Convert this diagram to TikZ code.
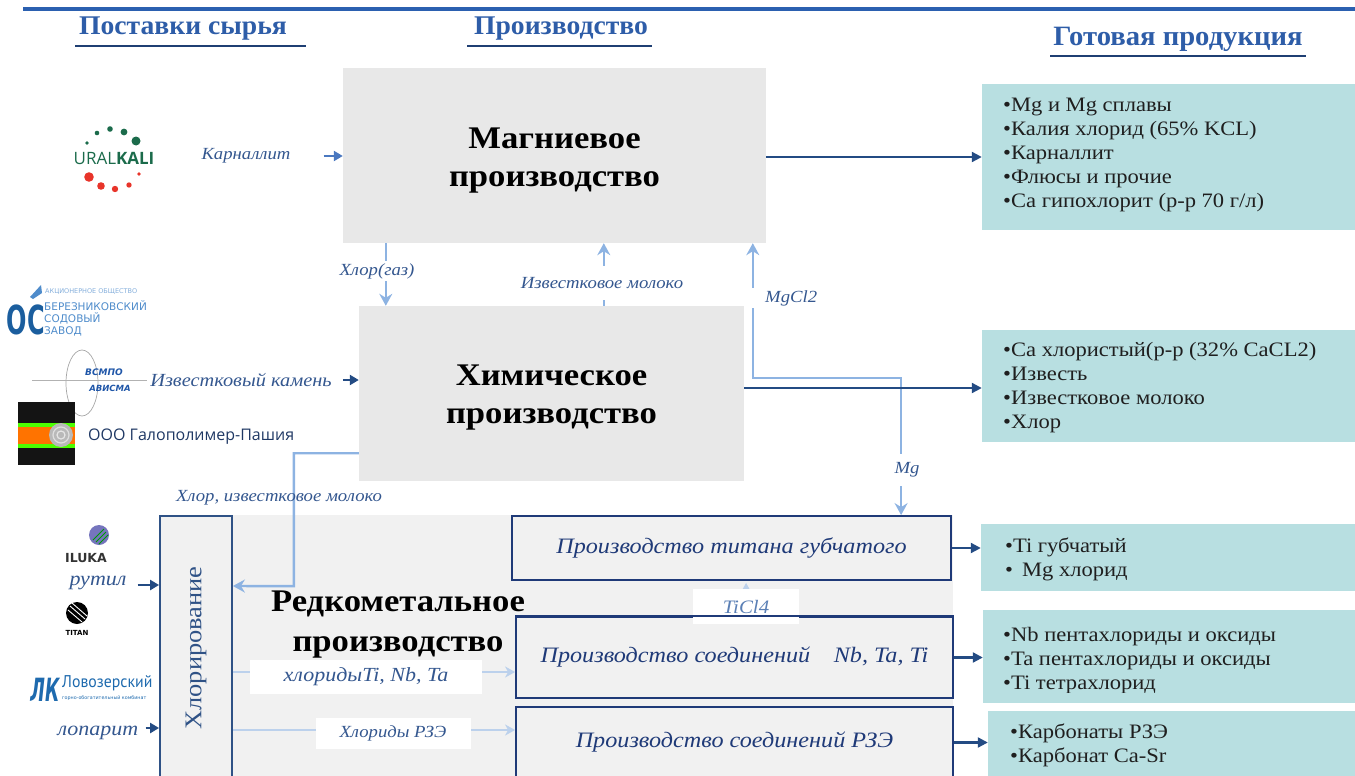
\documentclass[tikz,border=0pt]{standalone}
\usepackage{fontspec}
\setmainfont{Liberation Serif}[FakeStretch=1.1]
\setsansfont{DejaVu Sans}
\newfontfamily\logofont{Open Sans}
\newfontfamily\lovfont{PT Sans}
\usetikzlibrary{arrows.meta,calc}

\definecolor{hdrblue}{HTML}{2E5DA8}
\definecolor{hdrline}{HTML}{1F3F73}
\definecolor{topblue}{HTML}{2B60B0}
\definecolor{lblblue}{HTML}{34578F}
\definecolor{lightblue}{HTML}{8DB3E2}
\definecolor{paleblue}{HTML}{BCD1EC}
\definecolor{darkblue}{HTML}{234B83}
\definecolor{navy}{HTML}{1F3A78}
\definecolor{chlnavy}{HTML}{2F5286}
\definecolor{boxgray}{HTML}{E8E8E8}
\definecolor{regiongray}{HTML}{F1F1F1}
\definecolor{tealbox}{HTML}{B8DFE1}
\definecolor{midblue}{HTML}{4A78C0}
\definecolor{ukgreen}{HTML}{1B6B4B}
\definecolor{ukred}{HTML}{E8342A}
\definecolor{bszblue}{HTML}{1B5E9E}
\definecolor{bszlight}{HTML}{4F8CCB}
\definecolor{vsblue}{HTML}{1F56A8}
\definecolor{galtext}{HTML}{1F3864}
\definecolor{lovblue}{HTML}{1E6AAE}
\definecolor{ticlblue}{HTML}{5A7FB5}

\begin{document}
\begin{tikzpicture}[x=1pt,y=-1pt,
  hdr/.style={text=hdrblue, font=\bfseries\fontsize{27}{30}\selectfont, inner sep=0pt, xscale=0.93},
  hdrrule/.style={draw=hdrline, line width=2.4pt},
  bigbox/.style={fill=boxgray, inner sep=0pt},
  bigtext/.style={inner sep=0pt, align=center, font=\bfseries\fontsize{31.5}{38}\selectfont},
  outbox/.style={fill=tealbox, inner sep=0pt},
  outtext/.style={anchor=west, align=left, inner sep=0pt, font=\fontsize{20.5}{24}\selectfont, text=black!88},
  lab/.style={text=lblblue, font=\itshape\fontsize{17}{20}\selectfont, inner sep=1pt},
  labwhite/.style={lab, fill=white, inner sep=2pt},
  lightarr/.style={draw=lightblue, line width=2.4pt, -{Stealth[length=12pt,width=13pt,inset=4pt]}},
  lightboth/.style={draw=lightblue, line width=2.4pt, {Stealth[length=12pt,width=13pt,inset=4pt]}-{Stealth[length=12pt,width=13pt,inset=4pt]}},
  palearr/.style={draw=paleblue, line width=2.4pt, -{Stealth[length=10pt,width=11pt,inset=3pt]}},
  darkarr/.style={draw=darkblue, line width=2.2pt, -{Triangle[length=10pt,width=10pt]}},
  srcarr/.style={draw=darkblue, line width=2.4pt, -{Triangle[length=9pt,width=10pt]}},
  midarr/.style={draw=midblue, line width=2.2pt, -{Triangle[length=9pt,width=10pt]}},
  procbox/.style={draw=navy, line width=1.8pt, inner sep=0pt, text=navy, font=\itshape\fontsize{22}{24}\selectfont},
  logotxt/.style={inner sep=0pt, font=\sffamily}
]
\useasboundingbox (0,0) rectangle (1355,776);

% top rule
\draw[topblue, line width=3.2pt] (23,9) -- (1355,9);

% headers
\node[hdr] (hsup) at (183,29) {Поставки сырья};
\draw[hdrrule] (75,46) -- (306,46);
\node[hdr] (hprod) at (561,29) {Производство};
\draw[hdrrule] (467,46) -- (652,46);
\node[hdr, font=\bfseries\fontsize{28}{30}\selectfont] (hgot) at (1178,39) {Готовая продукция};
\draw[hdrrule] (1050,56) -- (1306,56);

% rare-metal region
\fill[regiongray] (160,515) rectangle (953,780);

% main gray boxes
\node[bigbox, minimum width=423pt, minimum height=175pt] (mg) at (554.5,155.5) {};
\node[bigtext] (mgtxt) at ([yshift=-5pt]mg.center) {Магниевое\\производство};
\node[bigbox, minimum width=385pt, minimum height=175pt] (chem) at (551.5,393.5) {};
\node[bigtext] (chemtxt) at ([yshift=-4pt]chem.center) {Химическое\\производство};

% output boxes
\node[outbox, minimum width=373pt, minimum height=146pt] (out1) at (1168.5,157) {};
\node[outtext] (t1) at (1003,155) {•Mg и Mg сплавы\\•Калия хлорид (65\% KCL)\\•Карналлит\\•Флюсы и прочие\\•Ca гипохлорит (р-р 70 г/л)};
\node[outbox, minimum width=373pt, minimum height=112pt] (out2) at (1168.5,386) {};
\node[outtext] (t2) at (1003,388) {•Ca хлористый(р-р (32\% CaCL2)\\•Известь\\•Известковое молоко\\•Хлор};
\node[outbox, minimum width=374pt, minimum height=67pt] (out3) at (1168,557.5) {};
\node[outtext] (t3) at (1005,559) {•Ti губчатый\\•\, Mg хлорид};
\node[outbox, minimum width=372pt, minimum height=93pt] (out4) at (1169,656.5) {};
\begin{scope}
\clip (983,610) rectangle (1355,692);
\node[outtext] (t4) at (1003,661) {•Nb пентахлориды и оксиды\\•Ta пентахлориды и оксиды\\•Ti тетрахлорид};
\end{scope}
\node[outbox, minimum width=367pt, minimum height=70pt] (out5) at (1171.5,746) {};
\node[outtext] (t5) at (1010,745) {•Карбонаты РЗЭ\\•Карбонат Ca-Sr};

% ---- sources: Uralkali
\foreach \p/\r in {{(87,143)}/1.8, {(97,133)}/2.3, {(110,129)}/2.8, {(124,132)}/3.4, {(136,141)}/4.5}
  \fill[ukgreen] \p circle (\r);
\foreach \p/\r in {{(89,177)}/4.8, {(101,186)}/3.8, {(115,189)}/3.2, {(129,185)}/2.7, {(139,174)}/1.9}
  \fill[ukred] \p circle (\r);
\node[logotxt, text=ukgreen, font=\logofont\fontsize{17}{17}\selectfont] (ural) at (114,158) {URAL\textbf{KALI}};
\node[lab] (karn) at (246,156) {Карналлит};
\draw[midarr] ($(karn.east)+(32,0)$) -- (karn.east -| mg.west);

% Bereznikovsky soda plant
\fill[bszlight] (30,297) -- (41,285) -- (42,293) -- (33,299) -- cycle;
\node[logotxt, text=bszblue, font=\sffamily\bfseries\fontsize{40}{40}\selectfont, xscale=0.6] (bszlogo) at (26,320) {ОС};
\node[logotxt, text=bszlight!70, font=\sffamily\fontsize{6.5}{7}\selectfont, anchor=west] (bsz0) at (45,292) {АКЦИОНЕРНОЕ ОБЩЕСТВО};
\node[logotxt, text=bszlight, font=\sffamily\fontsize{10.5}{12}\selectfont, anchor=west, align=left] (bsz1) at (44,318) {БЕРЕЗНИКОВСКИЙ\\СОДОВЫЙ\\ЗАВОД};

% VSMPO-AVISMA
\draw[gray!70, line width=0.7pt] (82,383) ellipse (16 and 33);
\draw[gray!60, line width=0.7pt] (32,380) -- (147,380);
\node[logotxt, text=vsblue, font=\sffamily\bfseries\itshape\fontsize{9}{10}\selectfont] (vsmpo) at (104,372) {ВСМПО};
\node[logotxt, text=vsblue, font=\sffamily\bfseries\itshape\fontsize{8.5}{10}\selectfont] (avisma) at (110,388) {АВИСМА};
\node[lab, font=\itshape\fontsize{18.5}{20}\selectfont] (izvk) at (241,380) {Известковый камень};
\draw[srcarr] ($(izvk.east)+(10,0)$) -- (izvk.east -| chem.west);

% Galopolimer
\fill[black!92] (18,402) rectangle (75,465);
\fill[green!70!yellow] (18,423) rectangle (75,448);
\fill[orange!90!red] (18,427) rectangle (75,444);
\fill[gray!55] (61,435) circle (12);
\draw[gray!25, line width=1.2pt] (61,435) circle (8);
\draw[gray!20, line width=1.2pt] (61,435) circle (4);
\node[logotxt, text=galtext, font=\logofont\fontsize{16}{18}\selectfont, anchor=west] (galo) at (88,437) {ООО Галополимер-Пашия};

% ILUKA, TITAN, Lovozersky
\fill[blue!35!gray!80] (99,535) circle (10);
\draw[green!60!black, line width=1pt] (96,542) -- (106,532) (99,544) -- (108,535) (93,540) -- (104,529);
\node[logotxt, text=black!80, font=\sffamily\bfseries\fontsize{12.5}{13}\selectfont] (iluka) at (86,558) {ILUKA};
\fill[black] (77,613) circle (11);
\draw[white, line width=0.9pt] (70,606) -- (85,619) (72,603) -- (87,616) (68,610) -- (82,622);
\node[logotxt, text=black, font=\sffamily\bfseries\fontsize{7}{8}\selectfont] (titanlogo) at (77,633) {TITAN};
\node[logotxt, text=lovblue, font=\sffamily\bfseries\itshape\fontsize{32}{32}\selectfont, xscale=0.55] (lklogo) at (45,690) {ЛК};
\node[logotxt, text=lovblue, font=\lovfont\fontsize{17}{18}\selectfont, xscale=0.93, anchor=west] (lovo) at (62,683) {Ловозерский};
\node[logotxt, text=lovblue, font=\sffamily\fontsize{4.8}{5}\selectfont, anchor=west] (lovo2) at (62,698) {горно-обогатительный комбинат};

% chlorination box
\node[draw=chlnavy, line width=1.8pt, fill=regiongray, minimum width=72pt, minimum height=264pt, inner sep=0pt] (chlor) at (196,648) {};
\node[rotate=90, text=chlnavy, font=\fontsize{24}{28}\selectfont, inner sep=0pt] (chlortxt) at (chlor.center) {Хлорирование};
\node[font=\bfseries\fontsize{31.5}{40}\selectfont, align=center, inner sep=0pt] (rare) at (398,625) {Редкометальное\\производство};

\node[lab, font=\itshape\fontsize{20}{22}\selectfont] (rut) at (98,583) {рутил};
\draw[srcarr] ($(rut.east)+(10,2)$) -- ($(rut.east -| chlor.west)+(0,2)$);
\node[lab, font=\itshape\fontsize{20}{22}\selectfont] (lop) at (98,733) {лопарит};
\draw[srcarr] ($(lop.east)+(6,-5)$) -- ($(lop.east -| chlor.west)+(0,-5)$);

% rare-metal process boxes
\node[procbox, minimum width=439pt, minimum height=64pt] (titan) at (731.5,548) {Производство титана губчатого};
\node[procbox, minimum width=437pt, minimum height=81pt] (nb) at (734.5,657.5) {Производство соединений\hspace{0.8em} Nb, Ta, Ti};
\node[procbox, minimum width=437pt, minimum height=71pt] (rze) at (734.5,742.5) {Производство соединений РЗЭ};

% light connectors between productions
\draw[lightarr] ([xshift=43pt]mg.south west) -- ([xshift=27pt]chem.north west);
\node[labwhite] (lclor) at (377,271) {Хлор(газ)};
\draw[lightarr] ([xshift=245pt]chem.north west) -- ([xshift=261pt]mg.south west);
\node[labwhite, minimum height=34pt] (lizv) at (602,283) {Известковое молоко};
\draw[lightboth] ([xshift=410pt]mg.south west) -- ++(0,135) -| ([xshift=390pt]titan.north west);
\node[labwhite, anchor=west] (lmgcl) at (749,298) {\hspace*{14pt}MgCl2};
\node[labwhite, minimum height=32pt] (lmg) at (907,470) {Mg};

% chem -> chlorination
\draw[lightarr] ([yshift=28pt]chem.south west) -| ++(-65,133) -- ($(chlor.east)+(0,-62)$);
\node[lab] (lhl) at (279,498) {Хлор, известковое молоко};

% chlorination -> process boxes
\draw[palearr] ([yshift=-14.5pt]nb.west -| chlor.east) -- ([yshift=-14.5pt]nb.west);
\draw[palearr] ([yshift=12.5pt]rze.west -| chlor.east) -- ([yshift=12.5pt]rze.west);
\node[labwhite, minimum width=232pt, minimum height=34pt, font=\itshape\fontsize{20}{22}\selectfont] (lchl) at (366,677) {хлоридыTi, Nb, Ta};
\node[labwhite, minimum width=155pt, minimum height=31pt] (lrze) at (393,733.5) {Хлориды РЗЭ};

% TiCl4
\draw[palearr] ([xshift=231pt]nb.north west) -- ([xshift=235pt,yshift=-2pt]titan.south west);
\node[labwhite, minimum width=106pt, minimum height=35pt, text=ticlblue, font=\itshape\fontsize{19}{22}\selectfont] (lticl) at (746,606.5) {TiCl4};
\draw[navy, line width=1.8pt] (nb.north west) -- (nb.north east);

% outputs
\draw[darkarr] (mg.east |- out1.west) -- (out1.west);
\draw[darkarr] ([yshift=-2pt]chem.east |- out2.west) -- ([yshift=-2pt]out2.west);
\draw[darkarr] (titan.east) -- (titan.east -| out3.west);
\draw[darkarr] (nb.east) -- (nb.east -| out4.west);
\draw[darkarr] (rze.east) -- (rze.east -| out5.west);
\end{tikzpicture}
\end{document}
